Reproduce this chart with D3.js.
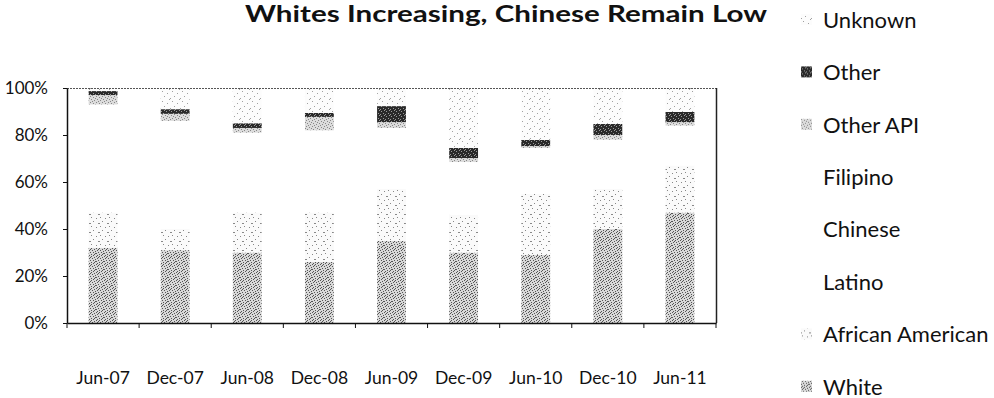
<!DOCTYPE html>
<html>
<head>
<meta charset="utf-8">
<script src="https://cdn.jsdelivr.net/npm/d3@7"></script>
<style>
  html, body { margin: 0; padding: 0; background: #fff; }
  svg { display: block; }
  text { font-family: Lato, "Open Sans", sans-serif; fill: #111; }
</style>
</head>
<body>
<svg id="chart" width="994" height="398"></svg>
<script>
// Share of each group per survey period (percent, stacks to 100)
const categories = ["Jun-07", "Dec-07", "Jun-08", "Dec-08", "Jun-09", "Dec-09", "Jun-10", "Dec-10", "Jun-11"];
const white           = [32, 31, 30, 26, 35, 30, 29, 40, 47];
const africanAmerican = [15, 9, 17, 21, 22, 16, 26, 17, 20];
const latino          = [21, 21, 15, 16, 12, 10, 9, 9.5, 8];
const chinese         = [14, 14, 11, 11, 8, 7, 6, 6.5, 5];
const filipino        = [11, 11, 8, 8, 6, 5.5, 4.5, 5, 4];
const otherAPI        = [4, 3, 2, 5.7, 2.5, 1.7, 0.8, 2, 1.5];
const other           = [1.7, 2, 2, 1.7, 6.8, 4.3, 2.6, 4.7, 4.3];
const unknown         = [1.3, 9, 15, 10.6, 7.7, 25.5, 22.1, 15.3, 10.2];
const yTicks = [0, 20, 40, 60, 80, 100];

// Stacking order, bottom to top
const seriesKeys  = ["White", "African American", "Latino", "Chinese", "Filipino", "Other API", "Other", "Unknown"];
const seriesVals  = [white, africanAmerican, latino, chinese, filipino, otherAPI, other, unknown];

const rows = categories.map((c, i) => {
  const r = { category: c };
  seriesKeys.forEach((k, j) => r[k] = seriesVals[j][i]);
  return r;
});

const svg = d3.select("#chart");
const margin = { left: 67, right: 716, top: 88, bottom: 323 };

const x = d3.scaleBand().domain(categories)
  .range([margin.left, margin.right]).paddingInner(0.6).paddingOuter(0.3);
const y = d3.scaleLinear().domain([0, 100]).range([margin.bottom, margin.top]);

// Stipple textures for the grayscale fills
const defs = svg.append("defs");
function stipple(id, size, bg, dotColor, dots) {
  const p = defs.append("pattern").attr("id", id)
    .attr("patternUnits", "userSpaceOnUse").attr("width", size).attr("height", size);
  p.append("rect").attr("width", size).attr("height", size).attr("fill", bg);
  dots.forEach(([dx, dy]) => p.append("rect").attr("x", dx).attr("y", dy)
    .attr("width", 1).attr("height", 1).attr("fill", dotColor));
}
stipple("pWhite", 8, "#d8d8d8", "#555",
  [[0,0],[3,0],[6,1],[1,2],[4,2],[7,3],[2,4],[5,4],[0,5],[3,6],[6,6],[1,7],[5,7],[7,5],[2,1]]);
stipple("pAA", 9, "#fafafa", "#888",
  [[1,1],[6,2],[3,5],[8,7],[0,7]]);
stipple("pOtherAPI", 6, "#dcdcdc", "#888",
  [[0,0],[3,1],[1,3],[4,4],[2,5],[5,2]]);
stipple("pOther", 5, "#2a2a2a", "#9a9a9a",
  [[1,1],[3,3],[0,4],[4,0]]);
stipple("pUnknown", 10, "#fcfcfc", "#a0a0a0",
  [[2,1],[7,3],[4,6],[0,8],[9,9]]);

const fills = {
  "White": "url(#pWhite)",
  "African American": "url(#pAA)",
  "Latino": "#ffffff",
  "Chinese": "#ffffff",
  "Filipino": "#ffffff",
  "Other API": "url(#pOtherAPI)",
  "Other": "url(#pOther)",
  "Unknown": "url(#pUnknown)"
};

const stack = d3.stack().keys(seriesKeys)(rows);

// Bars
svg.append("g").selectAll("g").data(stack).join("g")
  .attr("fill", d => fills[d.key])
  .selectAll("rect").data(d => d).join("rect")
  .attr("x", d => x(d.data.category))
  .attr("width", x.bandwidth())
  .attr("y", d => y(d[1]))
  .attr("height", d => y(d[0]) - y(d[1]));

// Plot frame: dotted top edge, solid right edge
svg.append("line")
  .attr("x1", margin.left).attr("x2", margin.right)
  .attr("y1", y(100) + 0.5).attr("y2", y(100) + 0.5)
  .attr("stroke", "#555").attr("stroke-dasharray", "2,1");
svg.append("line")
  .attr("x1", margin.right + 0.5).attr("x2", margin.right + 0.5)
  .attr("y1", y(100)).attr("y2", y(0))
  .attr("stroke", "#222").attr("stroke-width", 1.5);

// Y axis
const yAxis = svg.append("g").attr("transform", `translate(${margin.left},0)`)
  .call(d3.axisLeft(y).tickValues(yTicks).tickFormat(d => d + "%")
    .tickSizeInner(4).tickSizeOuter(0).tickPadding(15));
yAxis.select(".domain").attr("stroke", "#111").attr("stroke-width", 1.5);
yAxis.selectAll("line").attr("stroke", "#111");
yAxis.selectAll("text").style("font-family", "Lato, sans-serif").style("font-size", "17px").attr("fill", "#111");

// X axis: labels under bars, ticks on category boundaries
const xAxis = svg.append("g").attr("transform", `translate(0,${margin.bottom})`)
  .call(d3.axisBottom(x).tickSize(0).tickPadding(49));
xAxis.select(".domain").attr("stroke", "#111").attr("stroke-width", 1.5);
xAxis.selectAll("text").style("font-family", "Lato, sans-serif").style("font-size", "17.5px").attr("fill", "#111");
const bounds = d3.range(categories.length + 1).map(i => margin.left + i * x.step());
svg.append("g").selectAll("line").data(bounds).join("line")
  .attr("x1", d => d).attr("x2", d => d)
  .attr("y1", margin.bottom).attr("y2", margin.bottom + 5)
  .attr("stroke", "#111");

// Title
svg.append("text")
  .attr("x", 506).attr("y", 22)
  .attr("text-anchor", "middle")
  .attr("textLength", 522).attr("lengthAdjust", "spacingAndGlyphs")
  .style("font-size", "22px").style("font-weight", "bold")
  .text("Whites Increasing, Chinese Remain Low");

// Legend, top-most series first
const legendKeys = seriesKeys.slice().reverse();
const legend = svg.append("g").selectAll("g").data(legendKeys).join("g")
  .attr("transform", (d, i) => `translate(801,${20 + i * 52.4})`);
legend.append("rect")
  .attr("x", 0).attr("y", -6).attr("width", 11).attr("height", 11)
  .attr("fill", d => fills[d]);
legend.append("text")
  .attr("x", 22).attr("dy", "0.35em")
  .style("font-size", "22px")
  .text(d => d);
</script>
</body>
</html>
